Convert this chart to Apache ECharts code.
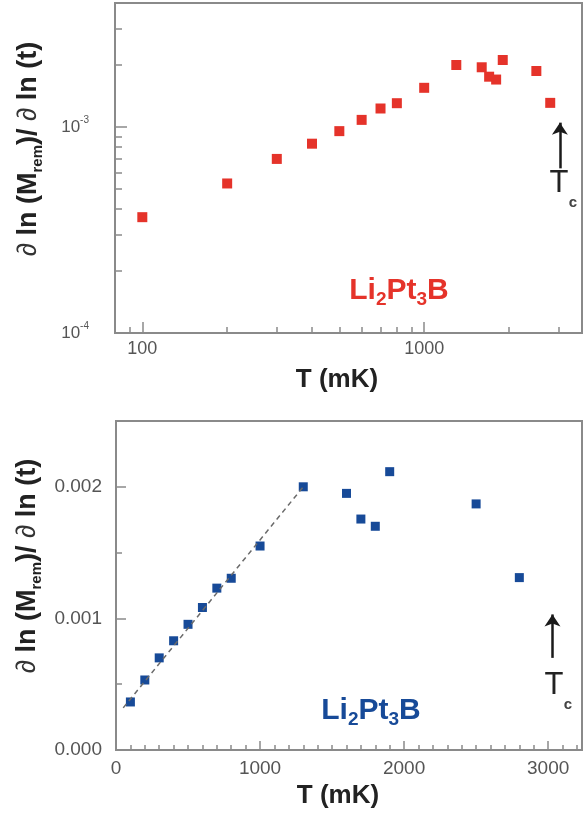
<!DOCTYPE html>
<html><head><meta charset="utf-8">
<script src="https://cdn.jsdelivr.net/npm/echarts@6/dist/echarts.min.js"></script>
<style>html,body{margin:0;padding:0;background:#fff}#c{width:583px;height:816px}</style>
</head><body><div id="c"></div>
<script>
// ---- data ----
const temps = [100, 200, 300, 400, 500, 600, 700, 800, 1000, 1300, 1600, 1700, 1800, 1900, 2500, 2800];
const rates = [3.65e-4, 5.32e-4, 7.0e-4, 8.3e-4, 9.55e-4, 1.083e-3, 1.23e-3, 1.305e-3, 1.55e-3, 2.0e-3, 1.95e-3, 1.755e-3, 1.70e-3, 2.115e-3, 1.87e-3, 1.31e-3];
const fitT = [50, 1300];
const fitV = [0.00032, 0.002];
const tcT = 3030;
const arrowLogV = [6.3e-4, 1.05e-3];
const arrowLinV = [0.00070, 0.00103];
// tick values
const logXMinor = [90, 200, 300, 400, 500, 600, 700, 800, 900, 2000, 3000];
const logYMinor = [2e-4, 3e-4, 4e-4, 5e-4, 6e-4, 7e-4, 8e-4, 9e-4, 2e-3, 3e-3];
const linXMajor = [0, 1000, 2000, 3000];
const linXMinor = [100,200,300,400,500,600,700,800,900,1100,1200,1300,1400,1500,1600,1700,1800,1900,2100,2200,2300,2400,2500,2600,2700,2800,2900,3100,3200];
const linYMajor = [0, 0.001, 0.002];
const linYMinor = [0.0005, 0.0015];

const FONT = "'Liberation Sans', Arial, sans-serif";
const FRAME = '#8a8a8a';
const TICKC = '#555';
const RED = '#e5332a';
const BLUE = '#174a98';

const chart = echarts.init(document.getElementById('c'), null, {renderer: 'canvas'});

const frameLine = {show: true, lineStyle: {color: FRAME, width: 2}};
function hiddenAxis(gi, min, max, vals, len, pos) {
  return {type: 'value', gridIndex: gi, min: min, max: max, position: pos,
    axisLine: {show: false}, splitLine: {show: false},
    axisLabel: {show: false},
    axisTick: {show: true, inside: true, length: len, customValues: vals, lineStyle: {color: FRAME, width: 1.5}}};
}
function arrowLine(v) {
  return {silent: true, symbol: ['none', 'arrow'], symbolSize: 12,
    itemStyle: {color: '#1a1a1a'},
    lineStyle: {color: '#1a1a1a', width: 2.5, type: 'solid'}, label: {show: false},
    data: [[{coord: [tcT, v[0]]}, {coord: [tcT, v[1]]}]]};
}

const option = {
  animation: false,
  backgroundColor: '#fff',
  grid: [
    {left: 115, top: 3, width: 467, height: 330, show: true, borderColor: FRAME, borderWidth: 2},
    {left: 116, top: 421, width: 466, height: 329, show: true, borderColor: FRAME, borderWidth: 2}
  ],
  xAxis: [
    {type: 'log', logBase: 10, gridIndex: 0, min: 80, max: 3630, position: 'bottom',
      axisLine: frameLine, splitLine: {show: false},
      axisTick: {show: true, inside: true, length: 11, lineStyle: {color: FRAME, width: 1.5}},
      axisLabel: {show: true, showMinLabel: false, showMaxLabel: false, margin: 7, color: TICKC, fontSize: 18, fontFamily: FONT,
        formatter: v => String(Math.round(v))}},
    hiddenAxis(0, Math.log10(80), Math.log10(3630), logXMinor.map(v => Math.log10(v)), 6, 'bottom'),
    {type: 'value', gridIndex: 1, min: 0, max: 3235, position: 'bottom',
      axisLine: frameLine, splitLine: {show: false},
      axisTick: {show: true, inside: true, length: 9, customValues: linXMajor, lineStyle: {color: FRAME, width: 1.5}},
      axisLabel: {show: true, customValues: linXMajor, margin: 9, color: TICKC, fontSize: 19, fontFamily: FONT,
        formatter: v => String(v)}},
    hiddenAxis(1, 0, 3235, linXMinor, 5, 'bottom')
  ],
  yAxis: [
    {type: 'log', logBase: 10, gridIndex: 0, min: 1e-4, max: 4e-3, position: 'left',
      axisLine: frameLine, splitLine: {show: false},
      axisTick: {show: true, inside: true, length: 12, lineStyle: {color: FRAME, width: 1.5}},
      axisLabel: {show: true, showMaxLabel: false, margin: 26, color: TICKC, fontFamily: FONT,
        formatter: v => '{b|10}{s|' + Math.round(Math.log10(v)) + '}',
        rich: {b: {fontSize: 17, color: TICKC, fontFamily: FONT, lineHeight: 24, verticalAlign: 'middle'},
               s: {fontSize: 10, color: TICKC, fontFamily: FONT, lineHeight: 10, verticalAlign: 'top'}}}},
    hiddenAxis(0, -4, Math.log10(4e-3), logYMinor.map(v => Math.log10(v)), 7, 'left'),
    {type: 'value', gridIndex: 1, min: 0, max: 0.0025, position: 'left',
      axisLine: frameLine, splitLine: {show: false},
      axisTick: {show: true, inside: true, length: 10, customValues: linYMajor, lineStyle: {color: FRAME, width: 1.5}},
      axisLabel: {show: true, customValues: linYMajor, margin: 14, color: TICKC, fontSize: 19, fontFamily: FONT,
        formatter: v => v.toFixed(3)}},
    hiddenAxis(1, 0, 0.0025, linYMinor, 6, 'left')
  ],
  series: [
    {type: 'scatter', xAxisIndex: 0, yAxisIndex: 0, symbol: 'rect', symbolSize: 10,
      itemStyle: {color: RED, opacity: 1}, data: temps.map((t, i) => [t, rates[i]]),
      markLine: arrowLine(arrowLogV)},
    {type: 'line', xAxisIndex: 2, yAxisIndex: 2, symbol: 'none', silent: true,
      lineStyle: {color: '#6a6a6a', width: 1.5, type: [5, 4]}, data: fitT.map((t, i) => [t, fitV[i]])},
    {type: 'scatter', xAxisIndex: 2, yAxisIndex: 2, symbol: 'rect', symbolSize: 9,
      itemStyle: {color: BLUE, opacity: 1}, data: temps.map((t, i) => [t, rates[i]]),
      markLine: arrowLine(arrowLinV)}
  ],
  graphic: []
};

function yTitle(cx, cy) {
  return {type: 'text', x: cx, y: cy, rotation: Math.PI / 2,
    style: {text: '{p|∂ }{b|ln (M}{s|rem}{b|)/ }{p|∂ }{b|ln (t)}', align: 'center', verticalAlign: 'middle',
      rich: {p: {fontSize: 27, fontFamily: FONT, fill: '#333', lineHeight: 32, verticalAlign: 'middle'},
             b: {fontSize: 27, fontWeight: 'bold', fontFamily: FONT, fill: '#222', lineHeight: 32, verticalAlign: 'middle'},
             s: {fontSize: 15, fontWeight: 'bold', fontFamily: FONT, fill: '#222', lineHeight: 15, verticalAlign: 'bottom'}}}};
}
function xTitle(cx, cy) {
  return {type: 'text', x: cx, y: cy,
    style: {text: 'T (mK)', align: 'center', verticalAlign: 'middle', fontSize: 26, fontWeight: 'bold', fontFamily: FONT, fill: '#222'}};
}
function compound(cx, cy, col) {
  return {type: 'text', x: cx, y: cy,
    style: {text: '{a|Li}{s|2}{a|Pt}{s|3}{a|B}', align: 'center', verticalAlign: 'middle',
      rich: {a: {fontSize: 30, fontWeight: 'bold', fontFamily: FONT, fill: col, lineHeight: 36, verticalAlign: 'middle'},
             s: {fontSize: 19, fontWeight: 'bold', fontFamily: FONT, fill: col, lineHeight: 19, verticalAlign: 'bottom'}}}};
}
function tc(cx, cy) {
  return [
    {type: 'text', x: cx, y: cy, style: {text: 'T', align: 'center', verticalAlign: 'middle', fontSize: 31, fontFamily: FONT, fill: '#222'}},
    {type: 'text', x: cx + 14, y: cy + 20, style: {text: 'c', align: 'center', verticalAlign: 'middle', fontSize: 15, fontWeight: 'bold', fontFamily: FONT, fill: '#444'}}
  ];
}
option.graphic = [
  yTitle(29, 149), yTitle(28, 566),
  xTitle(337, 380), xTitle(338, 796),
  compound(399, 291, RED), compound(371, 711, BLUE)
].concat(tc(559, 183)).concat(tc(554, 685));

chart.setOption(option);
</script>
</body></html>
